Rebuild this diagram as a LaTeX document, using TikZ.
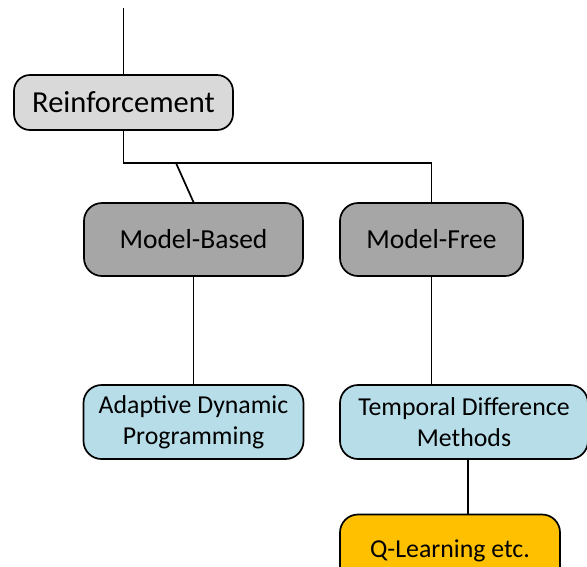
\documentclass[tikz,border=0pt]{standalone}
\usepackage{fontspec}
\setmainfont{Carlito}
\definecolor{lightgrey}{HTML}{D9D9D9}
\definecolor{midgrey}{HTML}{A6A6A6}
\definecolor{paleblue}{HTML}{B7DEE8}
\definecolor{amber}{HTML}{FFC000}
\begin{document}
\begin{tikzpicture}[
    x=1pt, y=-1pt,
    box/.style={rectangle, draw, line width=1.7pt, rounded corners=18pt, inner sep=0pt, align=center},
    rootbox/.style={box, fill=lightgrey, minimum width=219pt, minimum height=55pt, rounded corners=16pt, font=\fontsize{30.5}{36}\selectfont},
    modelbox/.style={box, fill=midgrey, minimum height=73pt, font=\fontsize{27.5}{33}\selectfont},
    methodbox/.style={box, fill=paleblue, minimum height=74pt, font=\fontsize{25.8}{31}\selectfont, execute at begin node={\rule{0pt}{29pt}}},
    leafbox/.style={box, fill=amber, minimum height=73pt, font=\fontsize{25.8}{31}\selectfont},
    link/.style={line width=1.7pt}
]
    \useasboundingbox (0,0) rectangle (587,566);
    \clip (0,0) rectangle (587,566);

    % Root
    \node[rootbox] (reinf) at (123.5,102.5) {Reinforcement};

    % Model layer
    \node[modelbox, minimum width=219pt] (mbased) at (193.5,239.5) {Model-Based};
    \node[modelbox, minimum width=183pt] (mfree) at (431.5,239.5) {Model-Free};

    % Method layer
    \node[methodbox, minimum width=220pt] (adp) at (193.5,422) {Adaptive Dynamic\\Programming};
    \node[methodbox, minimum width=248pt] (tdm) at (464,422) {Temporal Difference\\Methods};

    % Leaf
    \node[leafbox, minimum width=220pt] (qlearn) at (450,551) {Q-Learning etc.};

    % Connectors
    \coordinate (top) at (123.5,8);
    \coordinate (split) at (431.5,163);
    \coordinate (branch) at (176,163);
    \draw[link] (top) -- (reinf.north);
    \draw[link] (reinf.south) |- (split) -- (mfree.north);
    \draw[link] (branch) -- (mbased.north);
    \draw[link] (mbased.south) -- (adp.north);
    \draw[link] (mfree.south) -- (mfree.south |- tdm.north);
    \draw[link] ([xshift=4pt]tdm.south) -- ([xshift=4pt]tdm.south |- qlearn.north);
\end{tikzpicture}
\end{document}
